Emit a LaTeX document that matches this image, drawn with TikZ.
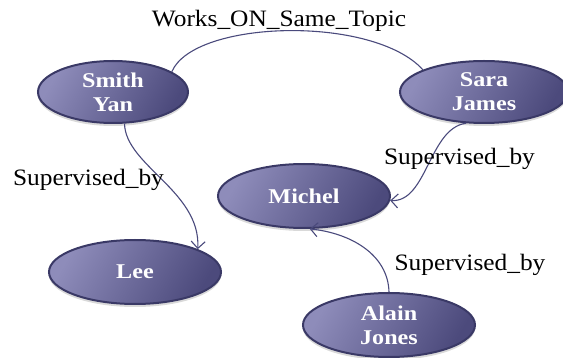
\documentclass[tikz,border=0pt]{standalone}
\usepackage{fontspec}
\setmainfont{Liberation Serif}
\newfontfamily\lblfont[FakeStretch=1.08]{Liberation Serif}
\newfontfamily\nodefont[FakeStretch=1.15]{Liberation Serif}
\usetikzlibrary{shapes.geometric,arrows.meta,shadows}
\definecolor{edgecol}{HTML}{4A4A7C}
\definecolor{nodelight}{HTML}{8E8CBA}
\definecolor{nodedark}{HTML}{4C4A7C}
\definecolor{nodeline}{HTML}{3A3966}
\tikzset{
  person/.style={ellipse, draw=nodeline, line width=2pt,
    left color=nodelight, right color=nodedark, shading angle=60,
    text=white, inner sep=0pt, align=center,
    font=\nodefont\fontsize{21}{24}\selectfont\bfseries,
    drop shadow={shadow xshift=0pt, shadow yshift=-3pt, opacity=0.3}},
  rel/.style={draw=edgecol, line width=1.1pt},
  relarrow/.style={rel, -{Straight Barb[length=7pt,width=14pt,line width=1.1pt]}},
  lbl/.style={anchor=base, inner sep=0pt, text=black,
    font=\lblfont\fontsize{23.5}{26}\selectfont}
}
\begin{document}
\begin{tikzpicture}[x=1pt,y=-1pt]
\useasboundingbox (0,0) rectangle (563,358);
\node[person, minimum width=150pt, minimum height=62pt] (smith) at (113,92) {Smith\\Yan};
\node[person, minimum width=168pt, minimum height=62pt] (sara) at (484,92) {Sara\\James};
\node[person, minimum width=172pt, minimum height=64pt] (michel) at (304,196) {Michel};
\node[person, minimum width=172pt, minimum height=64pt] (lee) at (135,272) {Lee};
\node[person, minimum width=172pt, minimum height=64pt] (alain) at (389,325) {Alain\\Jones};

\draw[rel] (smith.19) .. controls +(22,-52) and +(-50,-55) .. (sara.160);
\draw[relarrow] (smith.-70) .. controls +(1,42) and +(3,-58) .. (lee.20);
\draw[relarrow] (sara.240) .. controls +(-37,5) and +(37,2) .. (michel.-3);
\draw[relarrow] (alain.north) .. controls +(-1,-38) and +(40,4) .. (michel.-80);

\node[lbl] (lwork) at (279,27) {Works\_ON\_Same\_Topic};
\node[lbl] (lsup1) at (88.5,185.5) {Supervised\_by};
\node[lbl] (lsup2) at (459.5,165) {Supervised\_by};
\node[lbl] (lsup3) at (470,271) {Supervised\_by};
\end{tikzpicture}
\end{document}
